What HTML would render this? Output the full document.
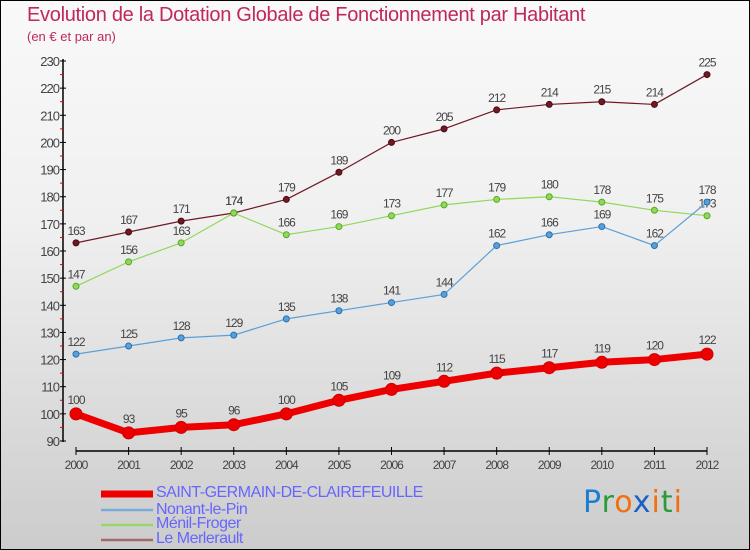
<!DOCTYPE html>
<html><head><meta charset="utf-8"><style>
body{margin:0}
#c{width:750px;height:550px;position:relative;overflow:hidden;box-sizing:border-box;border:1px solid #000;background:linear-gradient(#f9f9f9,#f0f0f0 40%,#cccccc);font-family:"Liberation Sans",sans-serif}
.t{position:absolute;left:26px;top:3px;font-size:20px;color:#c0285a;letter-spacing:-0.3px}
.s{position:absolute;left:26px;top:28px;font-size:13px;color:#c0285a}
.lg{position:absolute;left:155px;font-size:16px;color:#6666ff;letter-spacing:-0.5px}
</style></head><body>
<div id="c">
<div class="t">Evolution de la Dotation Globale de Fonctionnement par Habitant</div>
<div class="s">(en € et par an)</div>
<svg id="svg" width="750" height="550" style="position:absolute;left:0;top:0"></svg>
<div class="lg" style="top:483px">SAINT-GERMAIN-DE-CLAIREFEUILLE</div>
<div class="lg" style="top:500px">Nonant-le-Pin</div>
<div class="lg" style="top:514px">Ménil-Froger</div>
<div class="lg" style="top:529px">Le Merlerault</div>
<div style="position:absolute;left:582px;top:484px;font-size:30px;font-family:'DejaVu Sans',sans-serif;letter-spacing:1px"><span style="color:#1a7fd4">P</span><span style="color:#2a9a3a">r</span><span style="color:#f07010">o</span><span style="color:#1a5fc4">x</span><span style="color:#f07010">i</span><span style="color:#2a9a3a">t</span><span style="color:#f07010">i</span></div>
</div>
<script>
const years=["2000","2001","2002","2003","2004","2005","2006","2007","2008","2009","2010","2011","2012"];
const yTicks=[90,100,110,120,130,140,150,160,170,180,190,200,210,220,230];
const stGermain=[100,93,95,96,100,105,109,112,115,117,119,120,122];
const nonant=[122,125,128,129,135,138,141,144,162,166,169,162,178];
const menil=[147,156,163,174,166,169,173,177,179,180,178,175,173];
const merlerault=[163,167,171,174,179,189,200,205,212,214,215,214,225];
const svg=document.getElementById('svg');const NS='http://www.w3.org/2000/svg';
const X=i=>75+i*(706-75)/12;const Y=v=>440-(v-90)*380/140;
function mk(t,a,p){const e=document.createElementNS(NS,t);for(const k in a)e.setAttribute(k,a[k]);(p||svg).appendChild(e);return e;}
let e;
e=mk('line',{x1:62,y1:58,x2:62,y2:441,stroke:'#000','stroke-width':1.5});


e=mk('line',{x1:75,y1:450,x2:706,y2:450,stroke:'#000','stroke-width':1.5});


yTicks.forEach((v,i)=>{mk('line',{x1:59,y1:Y(v),x2:65,y2:Y(v),stroke:'#000'});
 if(i<yTicks.length-1)mk('line',{x1:59,y1:Y(v+5),x2:62,y2:Y(v+5),stroke:'#e00'});
 e=mk('text',{x:58,y:Y(v)+5,'text-anchor':'end','font-size':13,fill:'#444','letter-spacing':'-1'});e.textContent=v;
 
 });
years.forEach((y,i)=>{mk('line',{x1:X(i),y1:446,x2:X(i),y2:454,stroke:'#000'});
 e=mk('text',{x:X(i),y:468,'text-anchor':'middle','font-size':12,fill:'#444','letter-spacing':'-1'});e.textContent=y;
 
 });
function series(d,col,dot,w,r,name,lo){
 const g=mk('g',{});
 mk('polyline',{points:d.map((v,i)=>X(i)+','+Y(v)).join(' '),fill:'none',stroke:col,'stroke-width':w,'stroke-linejoin':'round'},g);
 d.forEach((v,i)=>{e=mk('circle',{cx:X(i),cy:Y(v),r:r,fill:col,stroke:dot,'stroke-width':1},g);
  
  
  e=mk('text',{x:X(i),y:Y(v)-(lo?10:8),'text-anchor':'middle','font-size':12,fill:'#444','letter-spacing':'-1'},g);e.textContent=v;
  
  });}
series(merlerault,'#6e1a24','#4a0a10',1.2,3,'le-merlerault');
series(menil,'#90d858','#5aa828',1.2,3,'menil-froger');
series(nonant,'#5aa0d8','#2a70b0',1.2,3,'nonant-le-pin');
series(stGermain,'#ee0000','#cc0000',7,6,'saint-germain',true);
[['#ee0000',7,493],['#7aaad8',2.5,509],['#98d868',2.5,524],['#a06a6a',2.5,539]].forEach((l,i)=>{
 e=mk('line',{x1:100,y1:l[2],x2:152,y2:l[2],stroke:l[0],'stroke-width':l[1]});
 
 });
</script>
</body></html>
